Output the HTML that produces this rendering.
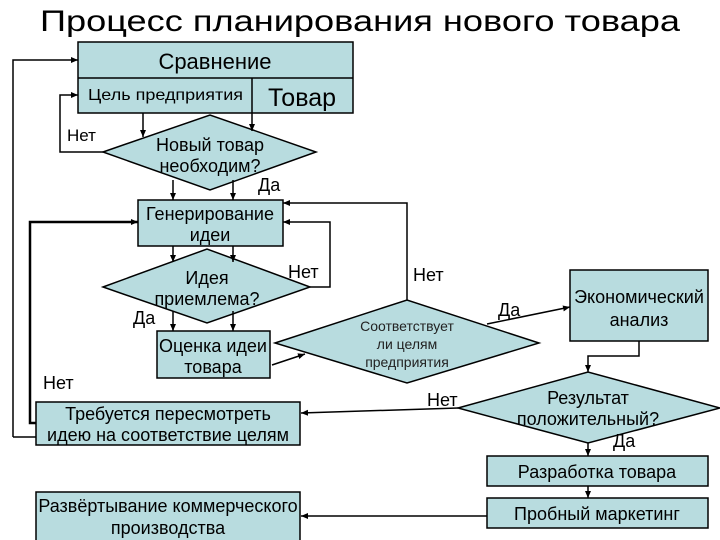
<!DOCTYPE html>
<html><head><meta charset="utf-8"><style>
html,body{margin:0;padding:0;background:#fff;}
svg{display:block;font-family:"Liberation Sans","DejaVu Sans",sans-serif;}
</style></head><body>
<svg width="720" height="540" viewBox="0 0 720 540" xmlns="http://www.w3.org/2000/svg">
<defs>
<marker id="a" markerWidth="8" markerHeight="8" refX="7" refY="4" orient="auto" markerUnits="userSpaceOnUse">
<path d="M0,1 L7,4 L0,7 z" fill="#000"/></marker>
</defs>
<g fill="#b8dcdf" stroke="#000" stroke-width="1.5">
<rect x="78" y="42" width="275" height="71"/>
<polygon points="103,152 210,115 316,152 210,190"/>
<rect x="138" y="200" width="145" height="46"/>
<polygon points="103,287 207,249 310,287 207,323"/>
<rect x="157" y="331" width="113" height="47"/>
<polygon points="275,343 407,300 539,343 407,383"/>
<rect x="570" y="270" width="138" height="71"/>
<polygon points="458,408 588,372 720,408 588,443"/>
<rect x="36" y="402" width="264" height="43"/>
<rect x="487" y="456" width="221" height="30"/>
<rect x="487" y="498" width="221" height="30"/>
<rect x="36" y="492" width="264" height="50"/>
</g>
<g stroke="#000" stroke-width="1.5" fill="none">
<line x1="78" y1="78" x2="353" y2="78"/>
<line x1="252" y1="78" x2="252" y2="113"/>
</g>
<g stroke="#000" stroke-width="1.5" fill="none" marker-end="url(#a)">
<line x1="143" y1="113" x2="143" y2="137"/>
<line x1="252" y1="113" x2="252" y2="131"/>
<polyline points="103,152 60,152 60,95 78,95"/>
<line x1="173" y1="180" x2="173" y2="200"/>
<line x1="233" y1="180" x2="233" y2="200"/>
<line x1="173" y1="246" x2="173" y2="262"/>
<line x1="233" y1="246" x2="233" y2="262"/>
<polyline points="310,287 330,287 330,222 283,222"/>
<line x1="173" y1="311" x2="173" y2="331"/>
<line x1="233" y1="311" x2="233" y2="331"/>
<line x1="272" y1="365" x2="305" y2="354"/>
<polyline points="407,300 407,203 283,203"/>
<line x1="487" y1="324" x2="570" y2="307"/>
<polyline points="639,341 639,356 588,356 588,372"/>
<line x1="458" y1="408" x2="301" y2="413"/>
<line x1="588" y1="443" x2="588" y2="456"/>
<line x1="588" y1="486" x2="588" y2="498"/>
<line x1="487" y1="516" x2="301" y2="516"/>
<polyline points="13,437 13,60 78,60"/>
</g>
<polyline points="36,423 30,423 30,222 138,222" stroke="#000" stroke-width="2.5" fill="none" marker-end="url(#a)"/>
<line x1="13" y1="437" x2="36" y2="437" stroke="#000" stroke-width="1.5"/>
<g fill="#000" font-size="18">
<text x="40" y="31" font-size="30" textLength="640" lengthAdjust="spacingAndGlyphs">Процесс планирования нового товара</text>
<text x="215" y="69" font-size="22" text-anchor="middle">Сравнение</text>
<text x="88" y="100" font-size="16" textLength="155" lengthAdjust="spacingAndGlyphs">Цель предприятия</text>
<text x="302" y="106" font-size="25" text-anchor="middle">Товар</text>
<text x="67" y="141" font-size="17">Нет</text>
<text x="210" y="151" text-anchor="middle">Новый товар</text>
<text x="210" y="172" text-anchor="middle">необходим?</text>
<text x="258" y="191">Да</text>
<text x="210" y="220" text-anchor="middle">Генерирование</text>
<text x="210" y="241" text-anchor="middle">идеи</text>
<text x="207" y="284" text-anchor="middle">Идея</text>
<text x="207" y="305" text-anchor="middle">приемлема?</text>
<text x="288" y="278">Нет</text>
<text x="133" y="324">Да</text>
<text x="213" y="352" text-anchor="middle">Оценка идеи</text>
<text x="213" y="373" text-anchor="middle">товара</text>
<text x="413" y="281">Нет</text>
<text x="407" y="331" text-anchor="middle" font-size="14" fill="#222">Соответствует</text>
<text x="407" y="349" text-anchor="middle" font-size="14" fill="#222">ли целям</text>
<text x="407" y="367" text-anchor="middle" font-size="14" fill="#222">предприятия</text>
<text x="498" y="316">Да</text>
<text x="639" y="303" text-anchor="middle">Экономический</text>
<text x="639" y="326" text-anchor="middle">анализ</text>
<text x="427" y="406">Нет</text>
<text x="588" y="404" text-anchor="middle">Результат</text>
<text x="588" y="425" text-anchor="middle">положительный?</text>
<text x="613" y="447">Да</text>
<text x="43" y="389">Нет</text>
<text x="168" y="420" text-anchor="middle">Требуется пересмотреть</text>
<text x="168" y="441" text-anchor="middle">идею на соответствие целям</text>
<text x="597" y="478" text-anchor="middle">Разработка товара</text>
<text x="597" y="520" text-anchor="middle">Пробный маркетинг</text>
<text x="168" y="512" text-anchor="middle">Развёртывание коммерческого</text>
<text x="168" y="534" text-anchor="middle">производства</text>
</g>
</svg>
</body></html>
